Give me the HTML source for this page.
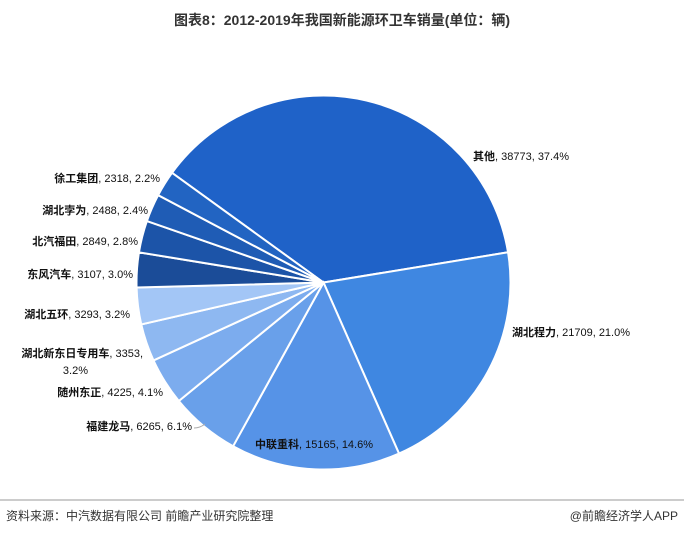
<!DOCTYPE html>
<html><head><meta charset="utf-8"><style>
body{margin:0;width:684px;height:535px;background:#fff;overflow:hidden;font-family:"Liberation Sans","Noto Sans CJK SC",sans-serif}
svg{position:absolute;left:0;top:0}
</style></head><body>
<svg id="s" width="684" height="535" xmlns="http://www.w3.org/2000/svg" font-family="Liberation Sans, Noto Sans CJK SC, sans-serif">
<text x="342" y="25" text-anchor="middle" font-size="14" font-weight="bold" fill="#333">图表8：2012-2019年我国新能源环卫车销量(单位：辆)</text>
<g id="pie"></g>
<g font-size="11" fill="#111">
<text x="473" y="160"><tspan font-weight="bold">其他</tspan>, 38773, 37.4%</text>
<text x="512" y="336"><tspan font-weight="bold">湖北程力</tspan>, 21709, 21.0%</text>
<text x="255" y="448"><tspan font-weight="bold">中联重科</tspan>, 15165, 14.6%</text>
<text x="192" y="430" text-anchor="end"><tspan font-weight="bold">福建龙马</tspan>, 6265, 6.1%</text>
<text x="163" y="396" text-anchor="end"><tspan font-weight="bold">随州东正</tspan>, 4225, 4.1%</text>
<text x="143" y="357" text-anchor="end"><tspan font-weight="bold">湖北新东日专用车</tspan>, 3353,</text>
<text x="88" y="374" text-anchor="end">3.2%</text>
<text x="130" y="318" text-anchor="end"><tspan font-weight="bold">湖北五环</tspan>, 3293, 3.2%</text>
<text x="133" y="278" text-anchor="end"><tspan font-weight="bold">东风汽车</tspan>, 3107, 3.0%</text>
<text x="138" y="245" text-anchor="end"><tspan font-weight="bold">北汽福田</tspan>, 2849, 2.8%</text>
<text x="148" y="214" text-anchor="end"><tspan font-weight="bold">湖北孛为</tspan>, 2488, 2.4%</text>
<text x="160" y="182" text-anchor="end"><tspan font-weight="bold">徐工集团</tspan>, 2318, 2.2%</text>
</g>
<path d="M194 428 Q200 428 205 424" stroke="#aaa" fill="none"/>
<line x1="0" y1="500" x2="684" y2="500" stroke="#999" stroke-width="1"/>
<text x="6" y="520" font-size="12" fill="#333">资料来源：中汽数据有限公司 前瞻产业研究院整理</text>
<text x="678" y="520" font-size="12" fill="#333" text-anchor="end">@前瞻经济学人APP</text>
</svg>
<script>
var d=[[38773,'#1f62c8'],[21709,'#3f87e1'],[15165,'#5693e7'],[6265,'#69a0ea'],[4225,'#7cacee'],[3353,'#8eb8f1'],[3293,'#a3c6f6'],[3107,'#1b4c98'],[2849,'#1c54a8'],[2488,'#1f5cb5'],[2318,'#2264c2']];
var T=0;d.forEach(function(x){T+=x[0]});
var cx=323.5,cy=282.5,r=187,a=-54.1*Math.PI/180,h='';
d.forEach(function(x){var b=a+x[0]/T*2*Math.PI;
var x1=cx+r*Math.sin(a),y1=cy-r*Math.cos(a),x2=cx+r*Math.sin(b),y2=cy-r*Math.cos(b);
h+='<path d="M'+cx+' '+cy+' L'+x1+' '+y1+' A'+r+' '+r+' 0 '+((b-a)>Math.PI?1:0)+' 1 '+x2+' '+y2+' Z" fill="'+x[1]+'" stroke="#fff" stroke-width="2"/>';a=b;});
document.getElementById('pie').innerHTML=h;
</script>
</body></html>
